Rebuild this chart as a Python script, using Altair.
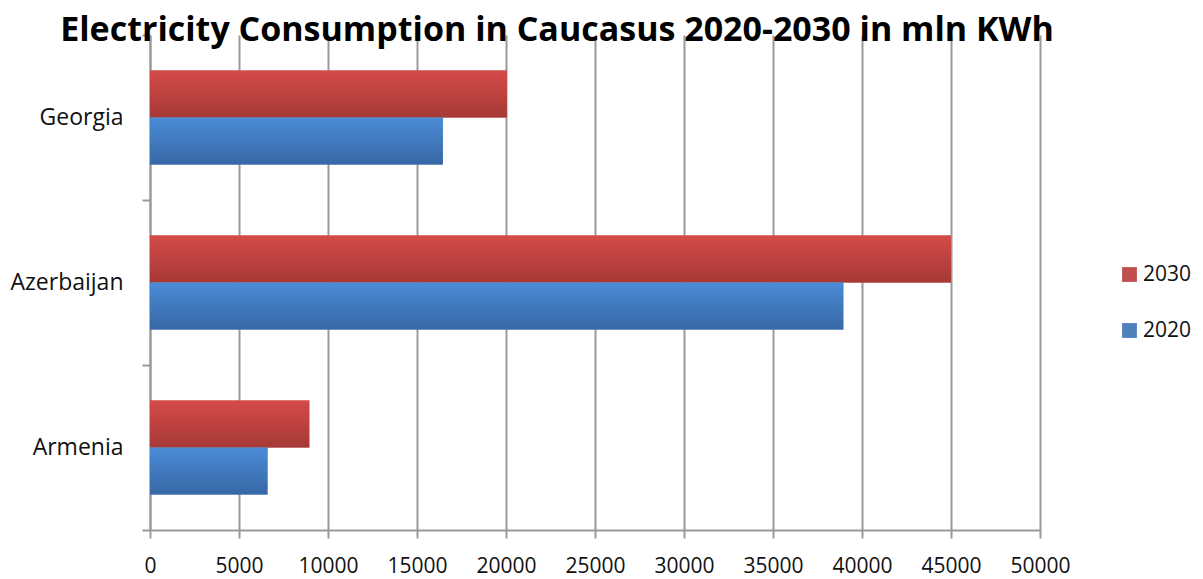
import altair as alt
import pandas as pd

countries = ["Georgia", "Azerbaijan", "Armenia"]
years = ["2030", "2020"]
values_2030 = [20050, 45000, 8950]
values_2020 = [16450, 38950, 6600]

rows = []
for i, c in enumerate(countries):
    rows.append({"country": c, "year": "2030", "value": values_2030[i]})
    rows.append({"country": c, "year": "2020", "value": values_2020[i]})
df = pd.DataFrame(rows)

FONT = "Open Sans"
GRID = "#9a9a9a"

red_grad = alt.Gradient(gradient="linear", x1=0, y1=0, x2=0, y2=1,
                        stops=[alt.GradientStop(offset=0, color="#d44b48"),
                               alt.GradientStop(offset=1, color="#a63936")])
blue_grad = alt.Gradient(gradient="linear", x1=0, y1=0, x2=0, y2=1,
                         stops=[alt.GradientStop(offset=0, color="#4b8cd7"),
                                alt.GradientStop(offset=1, color="#3767a5")])

y_enc = alt.Y("country:N", sort=countries,
              scale=alt.Scale(paddingInner=0, paddingOuter=0),
              axis=alt.Axis(title=None, labelFont=FONT, labelFontSize=23, labelColor="#111",
                            labelPadding=19, tickBand="extent", tickSize=8, tickColor=GRID,
                            tickWidth=2, domainColor=GRID, domainWidth=2, grid=False))
yoff_enc = alt.YOffset("year:N", sort=years,
                       scale=alt.Scale(domain=years, paddingInner=0, paddingOuter=0.755))
x_enc = alt.X("value:Q", scale=alt.Scale(domain=[0, 50000], nice=False),
              axis=alt.Axis(title=None, values=list(range(0, 50001, 5000)), format="d",
                            labelFont=FONT, labelFontSize=21, labelColor="#111", labelPadding=17,
                            tickSize=8, tickColor=GRID, tickWidth=2, domainColor=GRID,
                            domainWidth=2, gridColor=GRID, gridWidth=2, labelFlush=False))

base = alt.Chart(df).encode(y=y_enc, yOffset=yoff_enc, x=x_enc)

legend_layer = base.mark_bar().encode(
    color=alt.Color("year:N", sort=years,
                    scale=alt.Scale(domain=years, range=["#c0504d", "#4f81bd"]),
                    legend=alt.Legend(title=None, orient="none", legendX=969, legendY=229,
                                      symbolType="square", symbolSize=220, symbolStrokeWidth=0,
                                      labelFont=FONT, labelFontSize=21, labelColor="#111",
                                      rowPadding=34, labelOffset=3))
)
red_layer = base.mark_bar(fill=red_grad).transform_filter(alt.datum.year == "2030")
blue_layer = base.mark_bar(fill=blue_grad).transform_filter(alt.datum.year == "2020")

chart = alt.layer(legend_layer, red_layer, blue_layer).properties(
    width=890, height=495,
    title=alt.TitleParams("Electricity Consumption in Caucasus 2020-2030  in mln KWh",
                          font=FONT, fontSize=34, fontWeight="bold", color="#000",
                          anchor="middle", dx=-38, offset=-24),
    autosize=alt.AutoSizeParams(type="none"),
    padding={"left": 142, "top": 27, "right": 155, "bottom": 60},
).configure_view(stroke=None)

chart.save("out.html", embed_options={"renderer": "svg", "actions": False})
